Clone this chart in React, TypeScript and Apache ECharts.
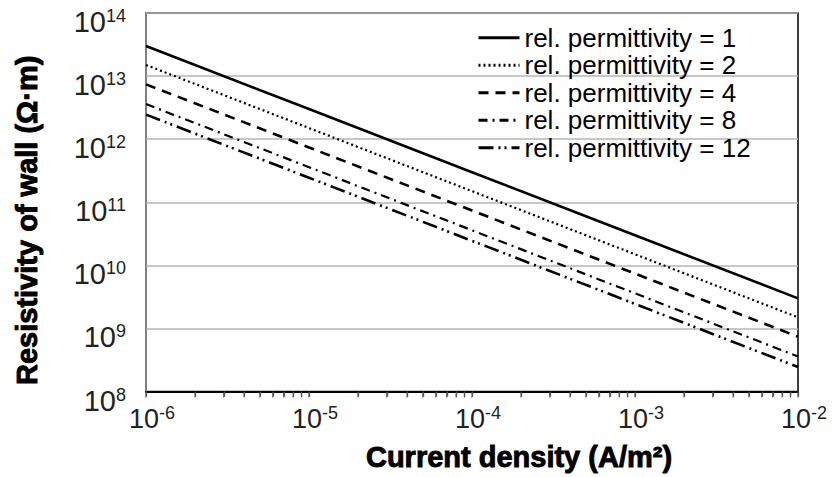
import React, { useEffect, useRef } from "react";
import * as echarts from "echarts";

const currentDensity = [1e-6, 1e-5, 1e-4, 1e-3, 1e-2];
const rho1 = [3.0e13, 3.0e12, 3.0e11, 3.0e10, 3.0e9];
const rho2 = [1.5e13, 1.5e12, 1.5e11, 1.5e10, 1.5e9];
const rho4 = [7.4e12, 7.4e11, 7.4e10, 7.4e9, 7.4e8];
const rho8 = [3.6e12, 3.6e11, 3.6e10, 3.6e9, 3.6e8];
const rho12 = [2.45e12, 2.45e11, 2.45e10, 2.45e9, 2.45e8];
const seriesNames = [
  "rel. permittivity = 1",
  "rel. permittivity = 2",
  "rel. permittivity = 4",
  "rel. permittivity = 8",
  "rel. permittivity = 12",
];
const xTickValues = [
  1e-6, 2e-6, 3e-6, 4e-6, 5e-6, 6e-6, 7e-6, 8e-6, 9e-6,
  1e-5, 2e-5, 3e-5, 4e-5, 5e-5, 6e-5, 7e-5, 8e-5, 9e-5,
  1e-4, 2e-4, 3e-4, 4e-4, 5e-4, 6e-4, 7e-4, 8e-4, 9e-4,
  1e-3, 2e-3, 3e-3, 4e-3, 5e-3, 6e-3, 7e-3, 8e-3, 9e-3, 1e-2,
];
const yMinValue = 1e8;
const yMaxValue = 1e14;

const FONT = "'Liberation Sans', Arial, sans-serif";

function pairs(ys: number[]) {
  return currentDensity.map((x, i) => [x, ys[i]]);
}

export default function App() {
  const ref = useRef<HTMLDivElement>(null);
  useEffect(() => {
    if (!ref.current) return;
    const chart = echarts.init(ref.current, undefined, { renderer: "svg" });
    const allData = [rho1, rho2, rho4, rho8, rho12];
    const dashes: any[] = [
      "solid",
      [2, 3],
      [10, 7],
      [9, 5, 2, 5],
      [15, 5, 2, 4, 2, 5],
    ];
    const widths = [2.6, 2.2, 2.6, 2.2, 2.6];
    const expOf = (v: number) => Math.round(Math.log10(v));
    const logTicks = xTickValues.map((v) => Math.log10(v));
    const titleStyle = {
      fontFamily: FONT,
      fontSize: 29,
      fontWeight: "bold",
      color: "#000",
      textBorderColor: "#000",
      textBorderWidth: 0.9,
    };
    chart.setOption({
      animation: false,
      textStyle: { fontFamily: FONT },
      grid: { left: 146, right: 34, top: 13, bottom: 84, show: true, borderColor: "#000", borderWidth: 1.5 },
      legend: {
        orient: "vertical",
        left: 477,
        top: 24,
        padding: 0,
        itemGap: 0,
        itemWidth: 41,
        itemHeight: 14,
        itemStyle: { opacity: 0 },
        lineStyle: { width: 3 },
        textStyle: { fontFamily: FONT, fontSize: 26, color: "#000", lineHeight: 27.5 },
        data: seriesNames,
      },
      xAxis: [
        {
          type: "log",
          logBase: 10,
          min: 1e-6,
          max: 1e-2,
          name: "Current density (A/m²)",
          nameLocation: "middle",
          nameGap: 51,
          nameTextStyle: { ...titleStyle, padding: [0, 0, 0, 94] },
          axisLine: { lineStyle: { color: "#000", width: 2 } },
          axisTick: { show: false },
          splitLine: { show: false },
          axisLabel: {
            margin: 12,
            formatter: (v: number) => `{b|10}{s|${expOf(v)}}`,
            padding: [0, 0, 0, 12],
            rich: {
              b: { fontFamily: FONT, fontSize: 27, color: "#222", lineHeight: 30 },
              s: { fontFamily: FONT, fontSize: 18, color: "#222", lineHeight: 30, padding: [0, 0, 12, 0] },
            },
          },
        },
        {
          type: "value",
          position: "bottom",
          min: -6,
          max: -2,
          interval: 1,
          show: true,
          axisLine: { show: false },
          splitLine: { show: false },
          axisLabel: { show: true, customValues: logTicks, formatter: () => "" },
          axisTick: {
            show: true,
            length: 5,
            lineStyle: { color: "#555", width: 1.3 },
            customValues: logTicks,
          },
        },
      ],
      yAxis: {
        type: "log",
        logBase: 10,
        min: yMinValue,
        max: yMaxValue,
        name: "Resistivity of wall (Ω·m)",
        nameLocation: "middle",
        nameGap: 105,
        nameTextStyle: { ...titleStyle, padding: [0, 36, 0, 0] },
        axisLine: { show: true, lineStyle: { color: "#999", width: 1.5 } },
        axisTick: { show: false },
        splitLine: { show: true, lineStyle: { color: "#b4b4b4", width: 1.5 } },
        axisLabel: {
          margin: 20,
          formatter: (v: number) => `{b|10}{s|${expOf(v)}}`,
          padding: [18, 0, 0, 0],
          rich: {
            b: { fontFamily: FONT, fontSize: 29, color: "#222", lineHeight: 30 },
            s: { fontFamily: FONT, fontSize: 18, color: "#222", lineHeight: 30, padding: [0, 0, 12, 0] },
          },
        },
      },
      series: [
        ...allData.map((d, i) => ({
          name: seriesNames[i],
          type: "line",
          xAxisIndex: 0,
          data: pairs(d),
          symbol: "none",
          lineStyle: { color: "#000", width: widths[i], type: dashes[i] },
          itemStyle: { color: "#000" },
          z: 3,
        })),
        {
          type: "custom",
          xAxisIndex: 0,
          clip: false,
          silent: true,
          z: 10,
          data: xTickValues.map((v) => [v, yMinValue]),
          renderItem: (params: any, api: any) => {
            const p = api.coord([api.value(0), api.value(1)]);
            return {
              type: "rect",
              shape: { x: p[0] - 0.6, y: p[1] + 1, width: 1.2, height: 5 },
              style: { fill: "#555" },
            };
          },
        },
      ],
    });
    return () => chart.dispose();
  }, []);
  return <div ref={ref} style={{ position: "absolute", left: 0, top: 0, width: 832, height: 477 }} />;
}
